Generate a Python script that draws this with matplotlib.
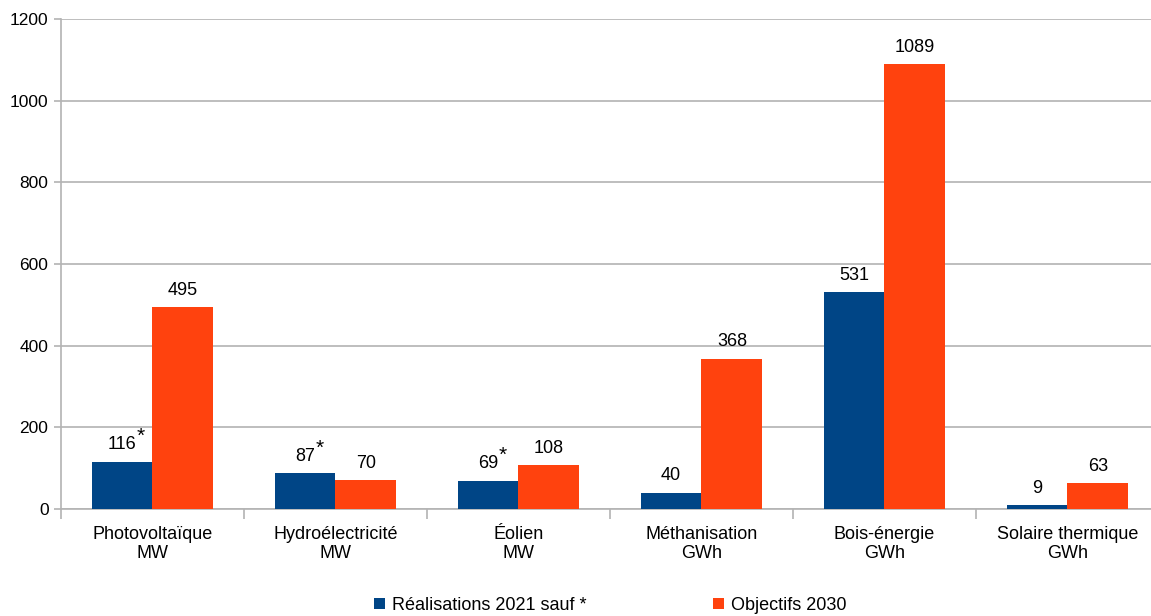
import matplotlib.pyplot as plt
import numpy as np

plt.rcParams['font.family'] = ['Liberation Sans', 'DejaVu Sans']

# données
categories = ["Photovoltaïque\nMW", "Hydroélectricité\nMW", "Éolien\nMW",
              "Méthanisation\nGWh", "Bois-énergie\nGWh", "Solaire thermique\nGWh"]
realisations = [116, 87, 69, 40, 531, 9]
objectifs = [495, 70, 108, 368, 1089, 63]
asterisque = [True, True, True, False, False, False]

bleu = "#004586"
orange = "#ff420e"
gris = "#b3b3b3"

W, H = 1151, 616
fig = plt.figure(figsize=(W / 100, H / 100), dpi=100)
# l'axe dépasse légèrement à droite, comme dans l'original
ax = fig.add_axes([61 / W, 1 - 509 / H, 1098 / W, (509 - 19) / H])

x = np.arange(len(categories))
w = 0.333
b1 = ax.bar(x - w / 2, realisations, w, color=bleu, label="Réalisations 2021 sauf *", zorder=3)
b2 = ax.bar(x + w / 2, objectifs, w, color=orange, label="Objectifs 2030", zorder=3)

ax.set_xlim(-0.5, len(categories) - 0.5)
ax.set_ylim(0, 1200)
ax.set_yticks(range(0, 1201, 200))
ax.yaxis.grid(True, color=gris, linewidth=1.2, zorder=0)
ax.set_xticks(x)
ax.set_xticklabels(categories, fontsize=13, linespacing=1.15)
ax.tick_params(axis='x', length=0, pad=12)
ax.set_xticks(np.arange(-0.5, len(categories)), minor=True)
ax.tick_params(axis='x', which='minor', length=7, color=gris, width=1.2)
ax.tick_params(axis='y', length=5, color=gris, width=1.2, labelsize=12.5, pad=4)

for s in ['top', 'right']:
    ax.spines[s].set_visible(False)
for s in ['left', 'bottom']:
    ax.spines[s].set_color(gris)
    ax.spines[s].set_linewidth(1.2)

# étiquettes de valeurs
labels_bleus = []
for rect, v in zip(b1, realisations):
    t = ax.annotate(str(v), (rect.get_x() + rect.get_width() / 2, v),
                    xytext=(0, 6), textcoords='offset points',
                    ha='center', va='bottom', fontsize=13)
    labels_bleus.append(t)
for rect, v in zip(b2, objectifs):
    ax.annotate(str(v), (rect.get_x() + rect.get_width() / 2, v),
                xytext=(0, 6), textcoords='offset points',
                ha='center', va='bottom', fontsize=13)

fig.canvas.draw()
r = fig.canvas.get_renderer()
for t, a in zip(labels_bleus, asterisque):
    if a:
        bb = t.get_window_extent(r)
        fig.text(bb.x1 / W + 0.0005, bb.y1 / H,
                 "*", fontsize=15, ha='left', va='center')

fig.legend(handles=[b1, b2], loc='lower center', bbox_to_anchor=(0.53, -0.023),
           ncol=2, frameon=False, fontsize=13, handlelength=0.6, handleheight=0.6,
           handletextpad=0.4, columnspacing=7)

fig.savefig("out.png", dpi=100)
